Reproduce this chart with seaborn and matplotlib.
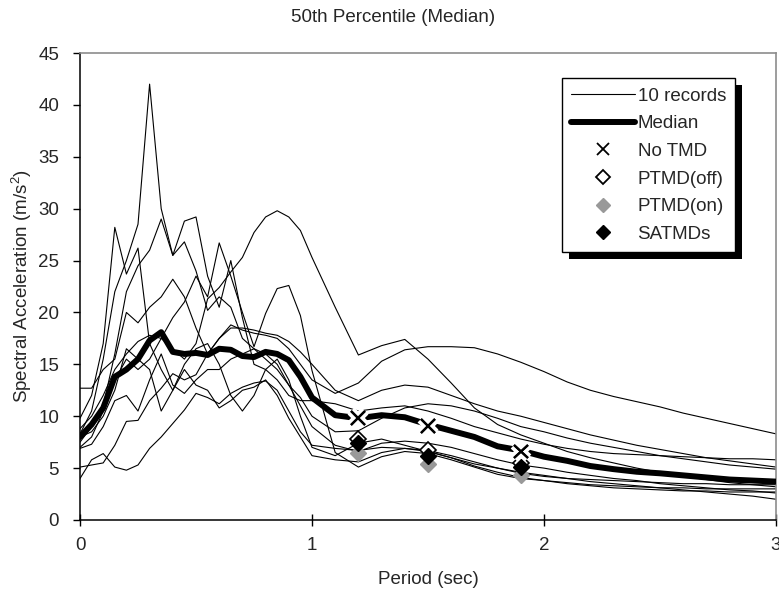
import numpy as np
import pandas as pd
import matplotlib
matplotlib.use("Agg")
import matplotlib.pyplot as plt
import matplotlib.patheffects as pe
from matplotlib.lines import Line2D
from matplotlib.patches import Rectangle
import seaborn as sns

# ---------------- data ----------------
period = [0, .05, .1, .15, .2, .25, .3, .35, .4, .45, .5, .55, .6, .65, .7, .75, .8, .85, .9, .95,
          1.0, 1.1, 1.2, 1.3, 1.4, 1.5, 1.6, 1.7, 1.8, 1.9, 2.0, 2.1, 2.2, 2.3, 2.4, 2.5, 2.6, 2.7, 2.8, 2.9, 3.0]

rec1 = [8.3, 10.5, 15.5, 22, 25, 28.5, 42, 30, 25.5, 26.8, 24, 20.2, 21.5, 20.5, 17.5, 16.5, 15.5, 14.5, 13, 11,
        9, 7.2, 6.6, 7.4, 7.6, 7.4, 7.0, 6.4, 5.8, 5.3, 5.0, 4.6, 4.3, 4.0, 3.8, 3.5, 3.3, 3.1, 2.9, 2.8, 2.6]
rec2 = [9.8, 12, 17, 28.2, 23.7, 26.2, 17, 14.5, 12.5, 15, 16.5, 17, 15, 12, 10.5, 12, 14.5, 15.5, 13.5, 10,
        7, 6.2, 7.4, 7.8, 7.2, 6.6, 6.0, 5.4, 5.0, 4.6, 4.3, 4.0, 3.7, 3.5, 3.3, 3.1, 2.9, 2.7, 2.5, 2.3, 2.0]
rec3 = [8.8, 10, 12, 14.5, 16, 17.2, 17.8, 17.5, 16.5, 15.5, 17, 21.3, 22.4, 23.9, 25.3, 27.7, 29.2, 29.8, 29.2, 27.9,
        25.3, 20.5, 15.9, 16.8, 17.4, 15.5, 13.2, 10.8, 9.2, 8.2, 7.4, 6.6, 6.0, 5.5, 5.0, 4.6, 4.2, 3.9, 3.6, 3.4, 3.2]
rec4 = [12.7, 12.7, 14.5, 15.5, 20, 19, 20.5, 21.5, 23.2, 21.5, 18.5, 16, 17.5, 18.8, 18.3, 18.0, 17.8, 17.5, 16.5, 15,
        13.5, 12.2, 13.2, 15.3, 16.4, 16.7, 16.7, 16.6, 16.0, 15.2, 14.3, 13.3, 12.5, 11.9, 11.4, 10.9, 10.3, 9.8, 9.3, 8.8, 8.3]
rec5 = [7.5, 9, 11, 16, 22, 24.5, 26, 29, 25.5, 28.8, 29.2, 23.5, 20.5, 25, 19.5, 15, 14.5, 13.5, 12.0, 11.5,
        11.5, 11.2, 10.5, 10.8, 11.0, 10.5, 9.8, 9.0, 8.4, 7.8, 7.3, 6.9, 6.6, 6.4, 6.3, 6.2, 6.1, 6.0, 5.9, 5.9, 5.8]
rec6 = [7.0, 8, 10.5, 13.5, 15.5, 14.5, 15.5, 17.5, 19.5, 21, 23.5, 21.5, 26.7, 23.5, 20, 16.7, 19.9, 22.3, 22.6, 19.7,
        14.4, 6.5, 5.1, 6.1, 6.6, 6.4, 5.8, 5.1, 4.4, 4.0, 3.8, 3.6, 3.4, 3.3, 3.2, 3.1, 3.1, 3.0, 3.0, 3.0, 3.0]
rec7 = [5.1, 5.3, 5.5, 7.2, 9.5, 9.6, 11.5, 12.7, 14.1, 13.5, 14, 16, 17.5, 18.5, 18.5, 18.3, 18.0, 17.8, 17.2, 16.2,
        15.0, 12.5, 11.5, 12.5, 13.0, 12.8, 12.0, 11.2, 10.5, 10.0, 9.4, 8.8, 8.2, 7.7, 7.2, 6.8, 6.4, 6.0, 5.7, 5.4, 5.1]
rec8 = [6.9, 7.3, 9, 11.5, 12, 10.5, 13.5, 16, 13, 12.2, 13.5, 14.5, 14.5, 15.5, 16, 16.5, 16, 15, 13, 11.8,
        10, 8.5, 8.6, 9.8, 10.8, 11.2, 11.0, 10.5, 9.8, 9.0, 8.5, 7.9, 7.4, 7.0, 6.6, 6.2, 5.9, 5.6, 5.3, 5.1, 4.9]
rec9 = [4.0, 5.8, 6.4, 5.1, 4.8, 5.3, 6.9, 8.0, 9.3, 10.6, 12.2, 11.8, 11.2, 12.2, 12.8, 13.2, 13.4, 12.5, 10.5, 8.5,
        7.2, 6.9, 6.7, 7.0, 6.9, 6.7, 6.2, 5.6, 5.0, 4.5, 4.2, 4.0, 3.9, 3.8, 3.7, 3.6, 3.5, 3.5, 3.4, 3.4, 3.4]
rec10 = [8.0, 8.5, 10, 12.5, 16.5, 15.5, 14.5, 10.5, 12.5, 14.5, 13.0, 12.5, 10.8, 11.5, 12.5, 12.8, 13.5, 12.0, 9.8, 8.0,
         6.2, 5.8, 5.6, 6.5, 6.9, 6.6, 6.0, 5.2, 4.6, 4.1, 3.8, 3.5, 3.3, 3.1, 3.0, 2.9, 2.8, 2.8, 2.7, 2.7, 2.7]
records = [rec1, rec2, rec3, rec4, rec5, rec6, rec7, rec8, rec9, rec10]

median = [8.0, 9.2, 10.8, 13.8, 14.5, 15.5, 17.3, 18.1, 16.2, 16.0, 16.1, 15.9, 16.5, 16.4, 15.8, 15.7, 16.2, 16.0, 15.4, 13.8,
          11.8, 10.1, 9.8, 10.1, 9.9, 9.2, 8.6, 8.0, 7.1, 6.7, 6.1, 5.7, 5.2, 4.9, 4.65, 4.5, 4.3, 4.1, 3.9, 3.8, 3.7]

tmd_period = [1.2, 1.5, 1.9]
no_tmd = [9.8, 9.1, 6.6]
ptmd_off = [7.8, 6.7, 5.5]
ptmd_on = [6.5, 5.4, 4.3]
satmds = [7.4, 6.2, 5.1]

title = "50th Percentile (Median)"
xlabel = "Period (sec)"
ylabel = "Spectral Acceleration (m/s$^2$)"
legend_labels = ["10 records", "Median", "No TMD", "PTMD(off)", "PTMD(on)", "SATMDs"]

# ---------------- style ----------------
sns.set_theme(style="white")
plt.rcParams["font.family"] = ["Liberation Sans", "DejaVu Sans"]
plt.rcParams["mathtext.fontset"] = "custom"
plt.rcParams["mathtext.rm"] = "Liberation Sans"
FS = 13.5

fig = plt.figure(figsize=(7.79, 6.01), dpi=100)
ax = fig.add_axes([80 / 779, 1 - 520 / 601, 696 / 779, 467 / 601])

rows = []
for i, r in enumerate(records):
    for p, v in zip(period, r):
        rows.append({"record": i, "period": p, "sa": v})
df = pd.DataFrame(rows)
sns.lineplot(data=df, x="period", y="sa", units="record", estimator=None,
             color="black", linewidth=0.8, ax=ax, zorder=2, legend=False)

med_df = pd.DataFrame({"period": period, "sa": median})
sns.lineplot(data=med_df, x="period", y="sa", color="black", linewidth=4.3, ax=ax, zorder=3,
             legend=False)

ax.plot(tmd_period, ptmd_on, linestyle="none", marker="D", ms=8, mfc="#999999", mec="#999999", zorder=4)
ax.plot(tmd_period, ptmd_off, linestyle="none", marker="D", ms=8, mfc="white", mec="black", mew=1.2, zorder=5)
ax.plot(tmd_period, satmds, linestyle="none", marker="D", ms=8, mfc="black", mec="black", zorder=6)
ax.plot(tmd_period, no_tmd, linestyle="none", marker="x", ms=10, mec="black", mew=1.6, zorder=7,
        path_effects=[pe.withStroke(linewidth=7, foreground="white"), pe.Normal()])

ax.set_xlim(0, 3)
ax.set_ylim(0, 45)
ax.set_xticks([0, 1, 2, 3])
ax.set_yticks(np.arange(0, 46, 5))
ax.set_xlabel("")
ax.set_ylabel("")
ax.tick_params(axis="x", direction="inout", length=9, width=1, color="black", labelsize=FS, pad=8)
ax.tick_params(axis="y", direction="out", length=5, width=1, color="black", labelsize=FS, pad=10)
ax.tick_params(bottom=True, left=True)
for s in ["left", "bottom"]:
    ax.spines[s].set_color("black")
    ax.spines[s].set_linewidth(1.1)
for s in ["top", "right"]:
    ax.spines[s].set_color("#8c8c8c")
    ax.spines[s].set_linewidth(1.2)

fig.text(0.505, 1 - 18 / 601, title, ha="center", va="center", fontsize=13.5)
fig.text(428 / 779, 1 - 580 / 601, xlabel, ha="center", va="center", fontsize=FS)
fig.text(22 / 779, 1 - 286 / 601, ylabel, ha="center", va="center", rotation=90, fontsize=FS)

handles = [
    Line2D([], [], color="black", lw=0.8),
    Line2D([], [], color="black", lw=4.3),
    Line2D([], [], ls="none", marker="x", ms=9, mec="black", mew=1.3),
    Line2D([], [], ls="none", marker="D", ms=7, mfc="white", mec="black", mew=1.3),
    Line2D([], [], ls="none", marker="D", ms=7, mfc="#999999", mec="#999999"),
    Line2D([], [], ls="none", marker="D", ms=7, mfc="black", mec="black"),
]
leg = ax.legend(handles, legend_labels, loc="upper left", bbox_to_anchor=(0.692, 0.946),
                borderaxespad=0, frameon=True, fancybox=False, edgecolor="black",
                facecolor="white", framealpha=1.0,
                fontsize=FS, handlelength=3.4, handletextpad=0.15, labelspacing=0.56,
                borderpad=0.5, numpoints=1)
leg.get_frame().set_linewidth(1.0)
leg.set_zorder(20)

fig.canvas.draw()
bb = leg.get_window_extent()
inv = ax.transAxes.inverted()
(x0, y0), (x1, y1) = inv.transform([(bb.x0 + 7, bb.y0 - 7), (bb.x1 + 7, bb.y1 - 7)])
ax.add_patch(Rectangle((x0, y0), x1 - x0, y1 - y0, transform=ax.transAxes, facecolor="black",
                       edgecolor="none", zorder=19, clip_on=False))

fig.savefig("out.png", dpi=100, facecolor="white")
